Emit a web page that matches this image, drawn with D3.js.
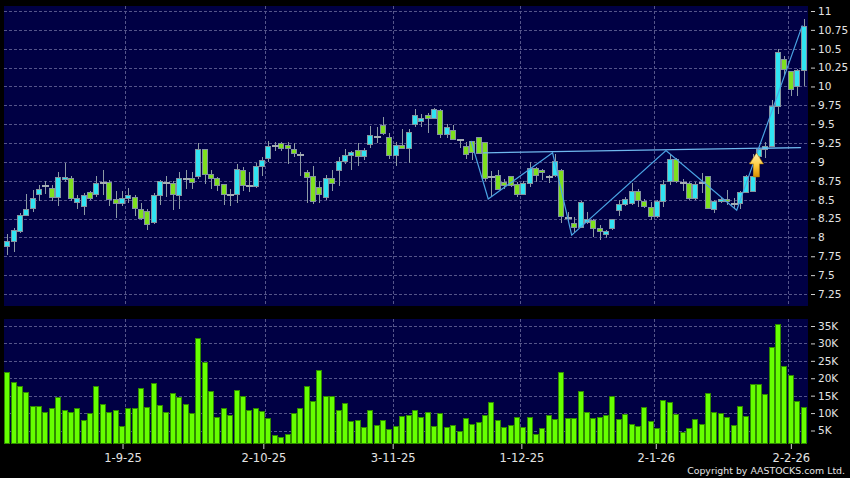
<!DOCTYPE html>
<html>
<head>
<meta charset="utf-8">
<script src="https://cdn.jsdelivr.net/npm/d3@7"></script>
<style>
  body { margin: 0; background: #000; }
  text { font-family: "DejaVu Sans", Verdana, sans-serif; fill: #e4e4e4; }
</style>
</head>
<body>
<div id="chart"></div>
<script>
// daily candles, 5-8-25 .. 4-2-26
const open = [7.88,7.94,8.08,8.29,8.38,8.57,8.70,8.65,8.53,8.77, 8.78,8.46,8.41,8.60,8.57,8.73,8.73,8.50,8.45,8.51,
  8.53,8.37,8.34,8.20,8.56,8.73,8.72,8.55,8.79,8.78, 8.81,9.17,8.84,8.78,8.70,8.57,8.57,8.89,8.70,8.67,
  8.94,9.05,9.22,9.24,9.22,9.16,9.10,8.86,8.81,8.66, 8.53,8.78,8.89,9.01,9.09,9.15,9.07,9.23,9.35,9.48,
  9.33,9.08,9.22,9.18,9.50,9.54,9.61,9.58,9.68,9.36, 9.42,9.30,9.21,9.27,9.32,9.26,8.81,8.82,8.73,8.81,
  8.70,8.57,8.71,8.91,8.89,8.82,8.82,8.89,8.27,8.19, 8.13,8.20,8.22,8.12,8.04,8.12,8.35,8.43,8.45,8.61,
  8.48,8.40,8.28,8.47,8.74,9.03,8.73,8.72,8.52,8.73, 8.81,8.37,8.47,8.50,8.46,8.45,8.60,8.61,9.07,9.17,
  9.21,9.74,10.36,10.20,10.00,10.21];
const high = [8.05,8.12,8.32,8.58,8.63,8.70,8.75,8.69,8.87,8.98, 8.82,8.56,8.59,8.62,8.82,8.89,8.76,8.61,8.61,8.66,
  8.56,8.45,8.38,8.59,8.76,8.82,8.75,8.86,8.89,8.86, 9.25,9.17,8.89,8.80,8.71,8.64,8.97,8.93,8.86,8.99,
  9.06,9.28,9.27,9.26,9.26,9.25,9.13,8.89,8.95,8.75, 8.83,8.89,9.07,9.17,9.14,9.25,9.19,9.48,9.46,9.59,
  9.38,9.26,9.43,9.43,9.70,9.63,9.65,9.72,9.70,9.50, 9.49,9.31,9.26,9.28,9.33,9.26,8.88,8.89,8.78,8.82,
  8.73,8.75,9.00,8.93,8.91,8.83,9.11,8.90,8.34,8.27, 8.48,8.34,8.25,8.16,8.10,8.25,8.49,8.54,8.72,8.64,
  8.51,8.47,8.49,8.76,9.10,9.05,8.78,8.74,8.74,8.85, 8.82,8.50,8.54,8.63,8.52,8.61,8.83,9.11,9.19,9.27,
  9.82,10.50,10.41,10.21,10.23,10.89];
const low = [7.77,7.81,8.06,8.28,8.33,8.48,8.58,8.48,8.41,8.74, 8.48,8.37,8.30,8.50,8.54,8.56,8.41,8.26,8.41,8.45,
  8.29,8.23,8.10,8.18,8.43,8.53,8.36,8.37,8.64,8.64, 8.78,8.71,8.64,8.62,8.43,8.41,8.45,8.61,8.60,8.65,
  8.82,9.00,9.14,9.15,8.97,9.06,8.82,8.45,8.44,8.45, 8.50,8.61,8.68,8.97,8.89,8.95,9.02,9.18,9.25,9.36,
  9.04,8.94,9.17,8.99,9.46,9.46,9.38,9.57,9.32,9.32, 9.29,9.19,9.04,9.02,9.10,8.75,8.54,8.63,8.64,8.67,
  8.53,8.56,8.67,8.73,8.76,8.72,8.80,8.19,8.21,8.07, 8.12,8.18,8.01,7.96,7.99,8.10,8.29,8.42,8.43,8.40,
  8.39,8.23,8.26,8.40,8.70,8.72,8.61,8.50,8.50,8.59, 8.37,8.32,8.45,8.43,8.37,8.38,8.59,8.60,9.03,9.05,
  9.20,9.64,10.14,9.88,9.88,10.01];
const close = [7.95,8.09,8.29,8.37,8.51,8.64,8.70,8.53,8.79,8.79, 8.52,8.51,8.56,8.52,8.71,8.73,8.50,8.45,8.52,8.56,
  8.38,8.25,8.17,8.56,8.74,8.73,8.57,8.78,8.79,8.73, 9.17,8.84,8.78,8.69,8.57,8.57,8.90,8.69,8.70,8.94,
  9.02,9.21,9.22,9.18,9.18,9.11,9.10,8.80,8.48,8.57, 8.78,8.72,9.00,9.09,9.12,9.07,9.15,9.35,9.35,9.38,
  9.08,9.22,9.18,9.39,9.61,9.57,9.57,9.70,9.36,9.46, 9.30,9.30,9.10,9.12,9.11,8.78,8.81,8.64,8.69,8.69,
  8.57,8.71,8.91,8.82,8.86,8.82,9.00,8.28,8.27,8.13, 8.46,8.24,8.12,8.08,8.08,8.24,8.43,8.50,8.61,8.49,
  8.41,8.28,8.48,8.70,9.03,8.74,8.73,8.52,8.70,8.73, 8.38,8.47,8.50,8.47,8.46,8.59,8.81,8.81,9.16,9.20,
  9.74,10.45,10.22,9.96,10.21,10.79];
// volume in thousands
const volume = [21.7,18.7,17.7,16.0,11.8,11.8,10.3,11.2,14.4,10.8, 10.1,11.3,8.0,9.8,17.5,12.6,10.3,10.7,6.2,11.4,
  11.4,17.2,11.6,18.4,12.3,10.3,15.7,14.4,12.4,10.0, 31.5,24.5,16.1,8.6,11.2,9.3,16.6,14.7,10.8,11.2,
  10.4,8.4,3.7,2.9,3.9,9.9,11.3,17.7,13.4,22.1, 14.8,14.9,10.8,12.8,7.5,7.9,6.0,10.6,6.3,7.9,
  5.3,6.1,8.9,9.3,10.6,8.6,10.2,6.2,9.9,6.0, 6.3,4.6,8.4,6.7,7.2,9.4,13.1,7.8,5.9,6.4,
  8.8,6.0,8.6,3.8,5.7,9.4,8.2,21.7,8.5,8.5, 16.3,10.1,8.4,8.8,9.4,14.9,8.3,9.7,6.8,6.1,
  11.6,7.7,5.7,13.7,13.1,9.5,4.3,5.7,8.2,6.8, 15.5,10.3,10.0,8.8,6.4,11.8,8.9,18.3,18.1,15.4,
  28.7,35.3,23.5,20.7,13.4,11.5];

const priceTicks = [11, 10.75, 10.5, 10.25, 10, 9.75, 9.5, 9.25, 9, 8.75, 8.5, 8.25, 8, 7.75, 7.5, 7.25];
const volTicks = [5, 10, 15, 20, 25, 30, 35];
const dateLabels = ["1-9-25", "2-10-25", "3-11-25", "1-12-25", "2-1-26", "2-2-26"];
const dateLabelIdx = [18.1, 40.2, 60.5, 80.7, 101.8, 123.0];
const monthStartIdx = [19, 41, 61, 81, 102, 123];

// pattern lines drawn on the chart, [candle index, price]
const zigzag = [[72.8, 9.28], [75.5, 8.51], [85.6, 9.12], [88.6, 8.03], [103.4, 9.15], [114.5, 8.36], [124.8, 10.81]];
const neckline = [[74.7, 9.12], [124.6, 9.19]];
const breakout = [117.6, 9.12];

const width = 850, height = 478;
const pTop = 6, pBottom = 306, vTop = 319, vBottom = 443, left = 4, right = 808;

const svg = d3.select("#chart")
    .append("svg")
    .attr("width", width)
    .attr("height", height)
    .style("background", "#000");

const x = d3.scaleLinear().domain([0, close.length - 1]).range([7.2, 803.6]);
const y = d3.scaleLinear().domain([7.25, 11]).range([294, 11]);
const yv = d3.scaleLinear().domain([5, 35]).range([430.5, 326]);

// panels
svg.append("rect").attr("x", left).attr("y", pTop).attr("width", right - left).attr("height", pBottom - pTop).attr("fill", "#000044");
svg.append("rect").attr("x", left).attr("y", vTop).attr("width", right - left).attr("height", vBottom - vTop).attr("fill", "#000044");

const grid = svg.append("g")
    .attr("stroke", "#55558a")
    .attr("stroke-dasharray", "3,2")
    .attr("shape-rendering", "crispEdges");

grid.selectAll(".hp").data(priceTicks).join("line")
    .attr("x1", left).attr("x2", right)
    .attr("y1", d => Math.round(y(d)) + 0.5).attr("y2", d => Math.round(y(d)) + 0.5);

grid.selectAll(".hv").data(volTicks).join("line")
    .attr("x1", left).attr("x2", right)
    .attr("y1", d => Math.round(yv(d)) + 0.5).attr("y2", d => Math.round(yv(d)) + 0.5);

grid.selectAll(".vp").data(monthStartIdx).join("line")
    .attr("x1", d => Math.round(x(d - 0.5)) + 0.5).attr("x2", d => Math.round(x(d - 0.5)) + 0.5)
    .attr("y1", pTop).attr("y2", pBottom);

grid.selectAll(".vv").data(monthStartIdx).join("line")
    .attr("x1", d => Math.round(x(d - 0.5)) + 0.5).attr("x2", d => Math.round(x(d - 0.5)) + 0.5)
    .attr("y1", vTop).attr("y2", vBottom);

// candles
const idx = d3.range(close.length);
const bw = 5;
const candles = svg.append("g").attr("shape-rendering", "crispEdges");

candles.selectAll(".wick").data(idx).join("line")
    .attr("x1", i => Math.round(x(i)) + 0.5).attr("x2", i => Math.round(x(i)) + 0.5)
    .attr("y1", i => y(high[i])).attr("y2", i => y(low[i]))
    .attr("stroke", "#8c9aa4");

const bodies = idx.filter(i => Math.abs(close[i] - open[i]) >= 0.01);
const dojis = idx.filter(i => Math.abs(close[i] - open[i]) < 0.01);

candles.selectAll(".body").data(bodies).join("rect")
    .attr("x", i => Math.round(x(i)) - bw / 2)
    .attr("y", i => y(Math.max(open[i], close[i])))
    .attr("width", bw)
    .attr("height", i => Math.max(2, Math.abs(y(open[i]) - y(close[i]))))
    .attr("fill", i => close[i] > open[i] ? "#30e4f2" : "#7ee01e")
    .attr("stroke", "#8494a0");

candles.selectAll(".doji").data(dojis).join("line")
    .attr("x1", i => Math.round(x(i)) - 3).attr("x2", i => Math.round(x(i)) + 4)
    .attr("y1", i => Math.round(y(close[i])) + 0.5).attr("y2", i => Math.round(y(close[i])) + 0.5)
    .attr("stroke", "#a4acb2").attr("stroke-width", 2);

// pattern lines
const line = d3.line().x(d => x(d[0])).y(d => y(d[1]));
svg.append("path").datum(neckline).attr("d", line)
    .attr("fill", "none").attr("stroke", "#6fb8ee").attr("stroke-width", 1.3);
svg.append("path").datum(zigzag).attr("d", line)
    .attr("fill", "none").attr("stroke", "#4aa4e4").attr("stroke-width", 1.2);

// breakout arrow
const defs = svg.append("defs");
const grad = defs.append("linearGradient").attr("id", "arrowGrad").attr("x1", 0).attr("x2", 0).attr("y1", 0).attr("y2", 1);
grad.append("stop").attr("offset", "0%").attr("stop-color", "#fff4b0");
grad.append("stop").attr("offset", "55%").attr("stop-color", "#ffc93a");
grad.append("stop").attr("offset", "100%").attr("stop-color", "#d99000");

svg.append("path")
    .attr("transform", `translate(${x(breakout[0])},${y(breakout[1])})`)
    .attr("d", "M0,0 L7,11 L3,11 L3,24 L-3,24 L-3,11 L-7,11 Z")
    .attr("fill", "url(#arrowGrad)")
    .attr("stroke", "#b07800")
    .attr("stroke-width", 0.6);

// volume bars
svg.append("g")
    .attr("shape-rendering", "crispEdges")
    .selectAll("rect").data(idx).join("rect")
    .attr("x", i => Math.round(x(i)) - 2.5)
    .attr("y", i => yv(volume[i]))
    .attr("width", 5)
    .attr("height", i => vBottom - yv(volume[i]))
    .attr("fill", "#66ff00")
    .attr("stroke", "#2f8a00");

// axes
svg.append("g")
    .attr("transform", `translate(811,0)`)
    .call(d3.axisRight(y).tickValues(priceTicks).tickSize(4).tickPadding(3).tickFormat(d => String(d)))
    .call(g => g.select(".domain").remove())
    .call(g => g.selectAll("line").attr("stroke", "#cfcfcf"))
    .call(g => g.selectAll("text").attr("fill", "#e4e4e4").style("font-size", "10.5px").style("font-family", "DejaVu Sans"));

svg.append("g")
    .attr("transform", `translate(811,0)`)
    .call(d3.axisRight(yv).tickValues(volTicks).tickSize(4).tickPadding(3).tickFormat(d => d + "K"))
    .call(g => g.select(".domain").remove())
    .call(g => g.selectAll("line").attr("stroke", "#cfcfcf"))
    .call(g => g.selectAll("text").attr("fill", "#e4e4e4").style("font-size", "10.5px").style("font-family", "DejaVu Sans"));

svg.append("g")
    .attr("transform", `translate(0,${vBottom + 1})`)
    .call(d3.axisBottom(x).tickValues(dateLabelIdx).tickSize(5).tickFormat((d, i) => dateLabels[i]))
    .call(g => g.select(".domain").remove())
    .call(g => g.selectAll("line").attr("stroke", "#cfcfcf"))
    .call(g => g.selectAll("text").attr("dy", null).attr("y", 18)
        .attr("fill", "#e4e4e4").style("font-size", "11.5px").style("font-family", "DejaVu Sans"));

svg.append("text")
    .attr("x", 845)
    .attr("y", 474)
    .attr("text-anchor", "end")
    .style("font-size", "9.4px")
    .attr("fill", "#e4e4e4")
    .text("Copyright by AASTOCKS.com Ltd.");
</script>
</body>
</html>
